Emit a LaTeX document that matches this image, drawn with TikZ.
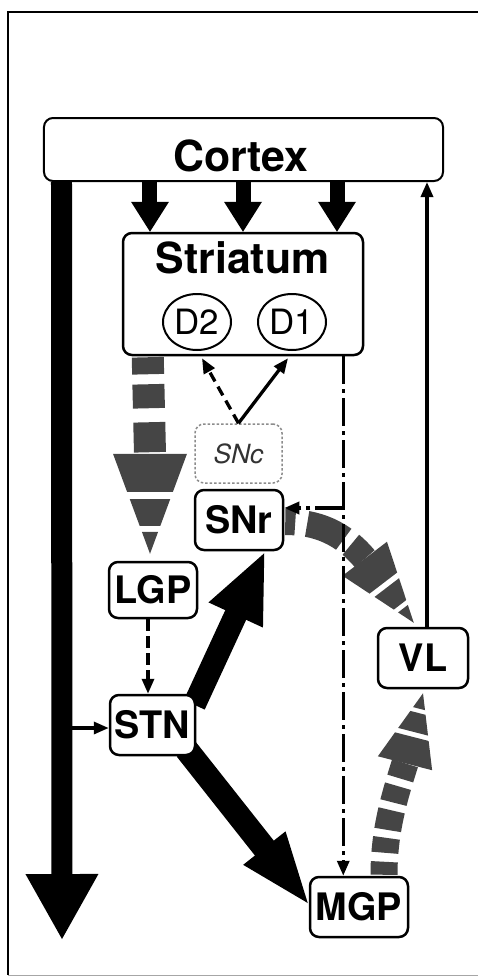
\documentclass[tikz,border=0pt]{standalone}
\usepackage{fontspec}
\setmainfont{TeX Gyre Heros}
\usetikzlibrary{arrows.meta,calc,backgrounds,shapes.geometric}
\definecolor{bandgray}{gray}{0.27}
\tikzset{
  box/.style={draw, line width=2.5bp, rounded corners=9bp, fill=white, inner sep=0pt,
    font=\bfseries\fontsize{38}{38}\selectfont},
  biglabel/.style={font=\bfseries\fontsize{43}{43}\selectfont, inner sep=0pt},
  dlabel/.style={ellipse, draw, line width=2bp, fill=white, inner sep=0pt,
    minimum width=68bp, minimum height=56bp, font=\fontsize{35}{35}\selectfont},
  thinarrow/.style={line width=3.3bp, -{Triangle[length=15bp,width=12bp]}},
  ddline/.style={dash pattern=on 28bp off 5bp on 4bp off 5bp},
  shaft/.style={bandgray},
}
\newcommand{\blackarrow}[5]{%
  \coordinate (hb) at ($(#2)!#4bp!(#1)$);
  \draw[line width=#3bp] (#1) -- ($(hb)!1bp!(#2)$);
  \fill ($(hb)!#5bp!90:(#2)$) -- (#2) -- ($(hb)!#5bp!-90:(#2)$) -- cycle;
}
\newcommand{\bandhead}[3]{%
  \begin{scope}
    \clip ($(#1)!#3bp!90:(#2)$) -- (#2) -- ($(#1)!#3bp!-90:(#2)$) -- cycle;
    \draw[bandgray, line width={2.5*#3bp}] ($(#1)!-0.05!(#2)$) -- ($(#1)!0.38!(#2)$);
    \draw[bandgray, line width={2.5*#3bp}] ($(#1)!0.45!(#2)$) -- ($(#1)!0.72!(#2)$);
    \draw[bandgray, line width={2.5*#3bp}] ($(#1)!0.78!(#2)$) -- ($(#1)!1.05!(#2)$);
  \end{scope}
}
\begin{document}
\begin{tikzpicture}[x=1bp,y=-1bp]
\useasboundingbox (0,0) rectangle (478,978);
% frame
\draw[line width=1.5bp] (478,12) -- (8,12) -- (8,975);
\draw[line width=1bp, black!35] (8,975) -- (478,975);

% nodes
\node[box, line width=2bp, minimum width=399bp, minimum height=63bp] (cortex) at (243.5,149.5) {};
\node[biglabel] (cortexlabel) at (241,155.5) {Cortex};
\node[box, minimum width=240bp, minimum height=122bp] (striatum) at (243,294) {};
\node[biglabel] (striatumlabel) at (242.5,257.5) {Striatum};
\node[dlabel] (d2) at (197,322) {D2};
\node[dlabel] (d1) at (292,322) {D1};
\node[box, draw=black!45, dotted, line width=1.5bp, text=black!80,
      font=\itshape\fontsize{26.5}{26.5}\selectfont,
      minimum width=87bp, minimum height=59bp] (snc) at (238.5,453.5) {SNc};
\node[box, minimum width=88bp, minimum height=60bp] (snr) at (239,520) {SNr};
\node[box, minimum width=88bp, minimum height=56bp] (lgp) at (153,590) {LGP};
\node[box, minimum width=85bp, minimum height=60bp] (stn) at (152.5,725) {STN};
\node[box, minimum width=90bp, minimum height=60bp] (vl) at (423,658) {VL};
\node[box, minimum width=98bp, minimum height=60bp] (mgp) at (359,907) {MGP};

% coordinates
\coordinate (bigstart) at ($(cortex.south west)+(18.5,0)$);
\coordinate (bigtip) at ($(bigstart)+(0.5,757)$);
\coordinate (ca1) at ($(cortex.south west)+(107,0)$);
\coordinate (ca2) at ($(cortex.south west)+(200,0)$);
\coordinate (ca3) at ($(cortex.south west)+(294,0)$);
\coordinate (stnA) at ($(stn.north east)+(-2,11)$);
\coordinate (snrA) at ($(snr.south east)+(-20,2)$);
\coordinate (stnB) at ($(stn.south east)+(-10,-7)$);
\coordinate (mgpA) at ($(mgp.west)+(-1,-4)$);
\coordinate (slA) at ($(striatum.south west)+(26,1)$);
\coordinate (slT) at ($(lgp.north)+(-3,-7)$);
\coordinate (slB) at ($(slT)+(0,-100)$);
\coordinate (svA) at ($(snr.east)+(1,2)$);
\coordinate (svT) at ($(vl.north west)+(37,-4)$);
\coordinate (svB) at ($(svT)+(-49,-64)$);
\coordinate (mvA) at ($(mgp.north)+(25,-1)$);
\coordinate (mvT) at ($(vl.south)+(0,4)$);
\coordinate (mvB) at ($(mvT)+(-18,70)$);

\begin{pgfonlayer}{background}
  % thick black arrows
  \blackarrow{bigstart}{bigtip}{21}{65}{36.5}
  \blackarrow{ca1}{ca1 |- striatum.north}{15}{30}{19}
  \blackarrow{ca2}{ca2 |- striatum.north}{15}{30}{19}
  \blackarrow{ca3}{ca3 |- striatum.north}{15}{30}{19}
  \blackarrow{stnA}{snrA}{23}{68}{30}
  \blackarrow{stnB}{mgpA}{24}{70}{27}
  % gray banded arrows
  \draw[shaft, line width=32bp, dash pattern=on 17bp off 10bp on 24bp off 14bp on 30bp off 5bp] (slA) -- (slB);
  \bandhead{slB}{slT}{37}
  \draw[shaft, line width=26bp, dash pattern=on 10bp off 12bp on 40bp off 9bp on 40bp off 0bp]
    (svA) .. controls +(32,0) and +(-22,-26) .. (svB);
  \bandhead{svB}{svT}{28}
  \draw[shaft, line width=27bp, dash pattern=on 13bp off 9bp on 15bp off 8bp on 20bp off 8bp on 17bp off 8bp on 40bp off 0bp]
    (mvA) .. controls +(0,-45) and +(-10,32) .. (mvB);
  \bandhead{mvB}{mvT}{28}
\end{pgfonlayer}

% thin connectors
\coordinate (vlc) at ($(vl.north)+(4,0)$);
\draw[thinarrow] (vlc) -- (vlc |- cortex.south);
\coordinate (ctxstn) at ($(bigstart |- stn.west)+(10.5,3)$);
\draw[thinarrow] (ctxstn) -- ($(stn.west)+(0,3)$);
\draw[thinarrow, dash pattern=on 12bp off 5bp] ($(lgp.south)+(-5,0)$) -- ($(stn.north)+(-4.5,0)$);
\coordinate (smtop) at ($(striatum.south east)+(-21,0)$);
\coordinate (snrin) at ($(snr.east)+(0,-12)$);
\draw[thinarrow, ddline] (smtop) -- (smtop |- mgp.north);
\draw[thinarrow, ddline] (smtop |- snrin) -- (snrin);
\coordinate (d2in) at ($(d2.south |- striatum.south)+(5,2)$);
\coordinate (d1in) at ($(d1.south |- striatum.south)+(-4,2)$);
\draw[thinarrow, dash pattern=on 10bp off 6bp] (snc.north) -- (d2in);
\draw[thinarrow] (snc.north) -- (d1in);
\end{tikzpicture}
\end{document}
